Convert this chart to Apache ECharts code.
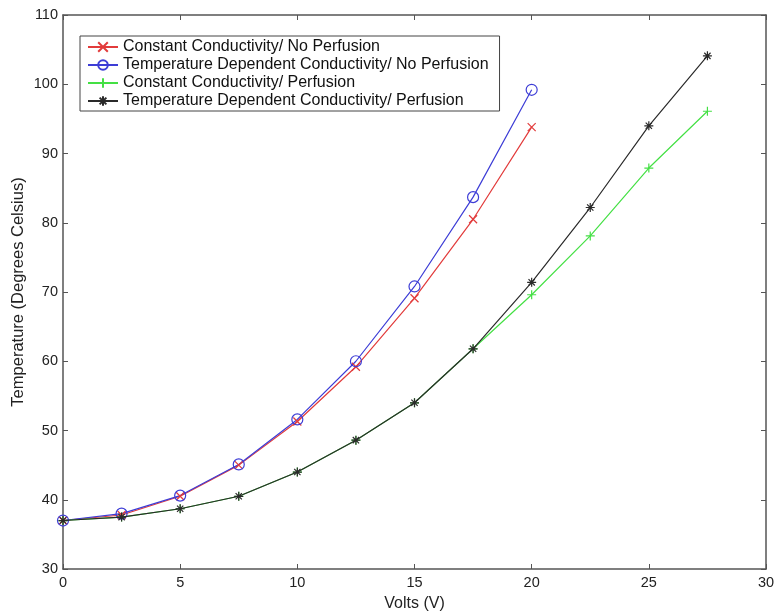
<!DOCTYPE html>
<html><head><meta charset="utf-8">
<script src="https://cdn.jsdelivr.net/npm/echarts@6/dist/echarts.min.js"></script>
<style>html,body{margin:0;padding:0;background:#fff}#c{width:776px;height:614px}</style>
</head><body><div id="c"></div>
<script>
const volts = [0, 2.5, 5, 7.5, 10, 12.5, 15, 17.5, 20, 22.5, 25, 27.5];
const constNoPerf = [37, 37.8, 40.5, 45, 51.3, 59.2, 69.1, 80.5, 93.8];
const tempNoPerf = [37, 38, 40.6, 45.1, 51.6, 60, 70.8, 83.7, 99.2];
const constPerf = [37, 37.5, 38.7, 40.5, 44, 48.6, 54, 61.8, 69.6, 78.1, 87.9, 96.1];
const tempPerf = [37, 37.5, 38.7, 40.5, 44, 48.6, 54, 61.8, 71.4, 82.2, 94, 104.1];
const names = ['Constant Conductivity/ No Perfusion','Temperature Dependent Conductivity/ No Perfusion','Constant Conductivity/ Perfusion','Temperature Dependent Conductivity/ Perfusion'];
const xTicks = [0,5,10,15,20,25,30];
const yTicks = [30,40,50,60,70,80,90,100,110];

const pts = (arr) => arr.map((v,i)=>[volts[i], v]);
const FONT = 'Liberation Sans, Arial, sans-serif';
const axisCol = '#555';
const symX = 'path://M0,0L10,10M10,0L0,10';
const symPlus = 'path://M5,0L5,10M0,5L10,5';
const symStar = 'path://M5,0L5,10M0,5L10,5M1.5,1.5L8.5,8.5M8.5,1.5L1.5,8.5';
const colors = ['#e23b3b','#3d3dd6','#44e044','#2a2a2a'];
const symbols = [symX,'circle',symPlus,symStar];
const sizes = [8,11,9,9];
const datas = [constNoPerf,tempNoPerf,constPerf,tempPerf];

const chart = echarts.init(document.getElementById('c'));
const xAx = (pos, show) => ({
  type:'value', position:pos, min:xTicks[0], max:xTicks[xTicks.length-1], interval:xTicks[1]-xTicks[0],
  axisLine:{show:true, onZero:false, lineStyle:{color:axisCol, width:1.5}},
  axisTick:{show:true, inside:true, length:5, lineStyle:{color:axisCol}},
  axisLabel:{show:show, color:'#222', fontSize:14.5, fontFamily:FONT, margin:6},
  splitLine:{show:false},
  name: show ? 'Volts (V)' : '', nameLocation:'middle', nameGap:27,
  nameTextStyle:{color:'#222', fontSize:16, fontFamily:FONT}
});
const yAx = (pos, show) => ({
  type:'value', position:pos, min:yTicks[0], max:yTicks[yTicks.length-1], interval:yTicks[1]-yTicks[0],
  axisLine:{show:true, onZero:false, lineStyle:{color:axisCol, width:1.5}},
  axisTick:{show:true, inside:true, length:5, lineStyle:{color:axisCol}},
  axisLabel:{show:show, color:'#222', fontSize:14.5, fontFamily:FONT, margin:5},
  splitLine:{show:false},
  name: show ? 'Temperature (Degrees Celsius)' : '', nameLocation:'middle', nameGap:36, nameMoveOverlap:false,
  nameTextStyle:{color:'#222', fontSize:16.5, fontFamily:FONT}
});
chart.setOption({
  animation:false,
  grid:{left:63, right:10, top:15, bottom:45, containLabel:false, outerBoundsMode:'none'},
  xAxis:[xAx('bottom', true), xAx('top', false)],
  yAxis:[yAx('left', true), yAx('right', false)],
  legend:{
    left:80, top:36, orient:'vertical', itemWidth:30, itemHeight:12, itemGap:2,
    padding:[3,11,2,7], borderColor:'#444', borderWidth:1, backgroundColor:'#fff',
    textStyle:{fontSize:16, lineHeight:16, fontFamily:FONT, color:'#111'},
    data:names
  },
  series: datas.map((d,i)=>({
    name:names[i], type:'line', data:pts(d), xAxisIndex:0, yAxisIndex:0,
    symbol:symbols[i], symbolSize:sizes[i], showSymbol:true,
    lineStyle:{color:colors[i], width:1.2},
    itemStyle:{color: i===1 ? 'rgba(0,0,0,0)' : 'none', borderColor:colors[i], borderWidth:1.2},
    color:colors[i], z: i===3 ? 3 : 2
  }))
});
</script></body></html>
